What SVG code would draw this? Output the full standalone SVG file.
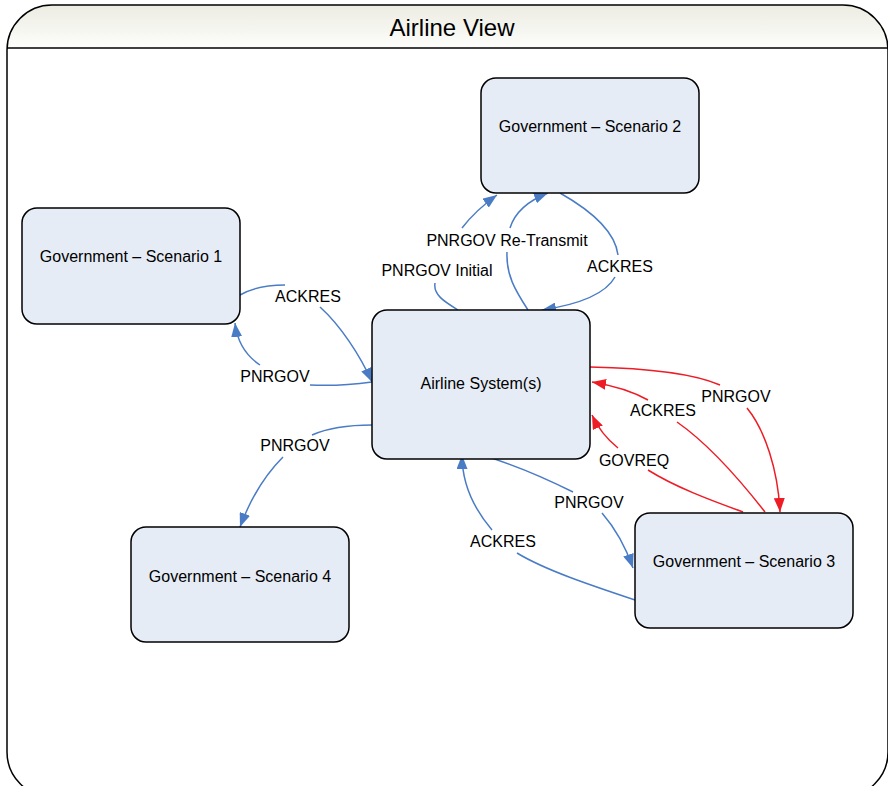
<svg xmlns="http://www.w3.org/2000/svg" width="888" height="786" viewBox="0 0 888 786">
<defs>
<linearGradient id="hdr" x1="0" y1="0" x2="0" y2="1">
<stop offset="0" stop-color="#ececE2"/>
<stop offset="1" stop-color="#fdfdfb"/>
</linearGradient>
<clipPath id="fc"><rect x="7" y="5" width="881" height="792" rx="45" ry="45"/></clipPath>
<marker id="ab" viewBox="0 0 14 11" refX="14" refY="5.5" markerWidth="14" markerHeight="11" markerUnits="userSpaceOnUse" orient="auto"><path d="M0,0 L14,5.5 L0,11 z" fill="#4a7cc6"/></marker>
<marker id="ar" viewBox="0 0 14 11" refX="14" refY="5.5" markerWidth="14" markerHeight="11" markerUnits="userSpaceOnUse" orient="auto"><path d="M0,0 L14,5.5 L0,11 z" fill="#ee1c25"/></marker>
</defs>
<style>
.node rect{fill:#e6ecf6;stroke:#000;stroke-width:1.5}
.node text{font-family:"Liberation Sans",Arial,sans-serif;font-size:16px;fill:#000;text-anchor:middle;dominant-baseline:central}
.b{fill:none;stroke:#4a7cc6;stroke-width:1.5;marker-end:url(#ab)}
.r{fill:none;stroke:#ee1c25;stroke-width:1.5;marker-end:url(#ar)}
.lbl{font-family:"Liberation Sans",Arial,sans-serif;font-size:16px;fill:#000;text-anchor:middle;dominant-baseline:central}
</style>
<g id="frame">
<rect x="7" y="5" width="881" height="43" fill="url(#hdr)" clip-path="url(#fc)"/>
<line x1="7" y1="48" x2="888" y2="48" stroke="#000" stroke-width="1.5"/>
<rect x="7" y="5" width="881" height="792" rx="45" ry="45" fill="none" stroke="#000" stroke-width="1.5"/>
<text x="452" y="27" font-family="Liberation Sans,Arial,sans-serif" font-size="24" text-anchor="middle" dominant-baseline="central">Airline View</text>
</g>
<g id="connectors">
<path class="b" d="M458,310 C445,302 433,295 435,283 M462,228 C472,215 483,205 497,195"/>
<path class="b" d="M528,310 C515,290 506,275 507,252 M510,228 C515,212 530,200 548,193"/>
<path class="b" d="M560,193 C590,210 615,230 618,255 M615,277 C605,295 575,305 542,310"/>
<path class="b" d="M240,295 C252,288 268,285 285,285 M320,307 C340,325 360,355 372,382"/>
<path class="b" d="M372,382 C350,385 330,386 310,385 M260,365 C245,355 237,340 235,323"/>
<path class="b" d="M372,425 C350,425 330,427 312,435 M283,457 C265,475 250,500 240,527"/>
<path class="b" d="M482,455 C515,465 545,478 573,492 M602,513 C615,528 625,545 633,568"/>
<path class="b" d="M635,600 C590,585 545,570 517,553 M492,530 C475,510 462,485 462,455"/>
<path class="r" d="M590,367 C640,368 690,372 720,385 M747,408 C765,430 778,470 780,512"/>
<path class="r" d="M765,512 C740,480 710,445 677,422 M648,400 C630,390 610,385 592,382"/>
<path class="r" d="M743,512 C710,500 675,487 648,470 M618,448 C608,440 598,428 592,415"/>
<text class="lbl" x="437" y="270">PNRGOV Initial</text>
<text class="lbl" x="507" y="240">PNRGOV Re-Transmit</text>
<text class="lbl" x="620" y="266">ACKRES</text>
<text class="lbl" x="308" y="296">ACKRES</text>
<text class="lbl" x="275" y="376">PNRGOV</text>
<text class="lbl" x="295" y="445">PNRGOV</text>
<text class="lbl" x="589" y="502">PNRGOV</text>
<text class="lbl" x="503" y="541">ACKRES</text>
<text class="lbl" x="736" y="396">PNRGOV</text>
<text class="lbl" x="663" y="410">ACKRES</text>
<text class="lbl" x="634" y="460">GOVREQ</text>
</g>
<g id="gov2" class="node"><rect x="481" y="78" width="218" height="115" rx="15"/><text x="590" y="126">Government – Scenario 2</text></g>
<g id="gov1" class="node"><rect x="22" y="208" width="218" height="116" rx="15"/><text x="131" y="256">Government – Scenario 1</text></g>
<g id="airline" class="node"><rect x="372" y="310" width="218" height="149" rx="15"/><text x="481" y="383">Airline System(s)</text></g>
<g id="gov4" class="node"><rect x="131" y="527" width="218" height="115" rx="15"/><text x="240" y="576">Government – Scenario 4</text></g>
<g id="gov3" class="node"><rect x="635" y="513" width="218" height="115" rx="15"/><text x="744" y="561">Government – Scenario 3</text></g>
</svg>
